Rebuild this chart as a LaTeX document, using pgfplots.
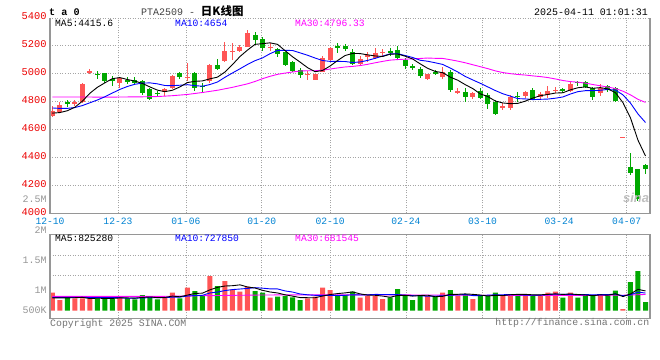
\documentclass[border=0pt]{standalone}
\usepackage{pgfplots}
\pgfplotsset{compat=1.18}
\usepackage{pgfplotstable}
\usepackage{fontspec}
\setmainfont{Liberation Mono}
\setmonofont{Liberation Mono}
\newfontfamily\cjk{Noto Sans CJK SC}
\newfontfamily\logofont{Liberation Sans}
\definecolor{cred}{RGB}{255,85,85}
\definecolor{cgreen}{RGB}{0,168,0}
\definecolor{gridc}{RGB}{165,165,165}
\definecolor{framec}{RGB}{150,150,150}
\definecolor{tickblue}{RGB}{0,130,210}
\definecolor{labred}{RGB}{235,0,0}
\definecolor{labgray}{RGB}{150,150,150}
\definecolor{magen}{RGB}{255,0,255}
\definecolor{mablue}{RGB}{0,0,255}

\pgfplotstableread{
i o h l c v
0 4700 4770 4690 4735 756
1 4728 4795 4720 4775 449
3 4785 4810 4768 4795 517
4 4796 4933 4790 4925 517
5 5012 5035 4995 5018 517
9 4935 4972 4900 4968 617
15 4868 4900 4840 4890 559
16 4898 4990 4893 4985 756
18 4972 5078 4950 4978 966
21 4945 5068 4935 5063 1457
23 5092 5231 5088 5162 1247
24 5158 5220 5100 5165 890
25 5160 5210 5155 5195 798
26 5195 5315 5190 5290 1008
29 5189 5220 5160 5195 546
34 4992 5020 4955 4998 517
35 4958 4998 4955 4995 588
36 5016 5125 5012 5111 966
37 5100 5195 5090 5183 869
41 5072 5130 5065 5108 546
42 5118 5158 5083 5135 617
43 5115 5182 5105 5148 617
44 5150 5180 5130 5158 491
50 4962 5000 4958 4998 617
52 4980 5050 4965 5014 756
54 4868 4900 4855 4875 617
56 4835 4868 4820 4860 491
60 4755 4790 4740 4770 659
61 4755 4850 4742 4832 659
63 4838 4880 4825 4868 659
65 4832 4868 4812 4858 659
66 4850 4912 4825 4878 756
67 4878 4903 4860 4885 798
69 4878 4940 4870 4928 756
73 4860 4925 4838 4900 701
76 4542 4548 4542 4548 71
}\redtab

\pgfplotstableread{
i o h l c v
2 4795 4812 4765 4785 559
6 5000 5020 4965 4990 517
7 5003 5005 4935 4945 517
8 4962 4982 4910 4945 517
10 4958 4978 4925 4945 517
11 4955 4975 4920 4935 475
12 4945 4955 4850 4862 659
13 4890 4895 4812 4820 617
14 4865 4880 4838 4855 475
17 5003 5015 4960 4978 517
19 5005 5010 4878 4897 827
20 4915 4933 4873 4905 617
22 5063 5105 5030 5036 1037
27 5280 5298 5210 5245 827
28 5250 5265 5160 5185 756
30 5178 5182 5118 5140 588
31 5155 5158 5056 5066 617
32 5088 5095 5010 5022 559
33 5028 5040 4972 4995 449
38 5202 5220 5150 5186 659
39 5198 5215 5165 5180 659
40 5155 5180 5062 5070 798
45 5162 5183 5130 5155 559
46 5170 5200 5100 5112 911
47 5102 5115 5035 5058 659
48 5056 5070 5030 5048 449
49 5034 5050 4970 4981 617
51 5015 5025 4988 5000 588
53 5014 5030 4868 4885 869
55 4866 4895 4800 4836 701
57 4876 4897 4818 4826 617
58 4850 4862 4745 4786 659
59 4800 4815 4705 4715 756
62 4842 4870 4800 4836 701
64 4886 4895 4815 4822 659
68 4888 4900 4862 4875 546
70 4941 4945 4912 4935 546
71 4942 4950 4900 4905 659
72 4898 4905 4815 4835 659
74 4912 4920 4870 4882 701
75 4895 4905 4800 4802 840
77 4335 4430 4275 4290 1205
78 4318 4320 4090 4102 1667
79 4345 4355 4285 4316 365
}\greentab

\pgfplotstableread{
i m5 m10 v5 v10
0 4718 4755 540 560
1 4722 4752 540 560
2 4735 4752 540 560
3 4760 4758 545 560
4 4803 4772 560 558
5 4860 4792 512 556
6 4903 4812 525 555
7 4935 4835 517 552
8 4965 4862 517 550
9 4973 4888 537 548
10 4959 4909 537 524
11 4948 4925 529 527
12 4931 4933 557 537
13 4906 4935 577 547
14 4883 4928 549 543
15 4872 4916 557 547
16 4882 4915 613 571
17 4906 4918 585 571
18 4937 4922 655 616
19 4946 4915 725 637
20 4949 4911 737 647
21 4964 4923 877 745
22 4976 4941 981 783
23 5013 4975 1037 846
24 5066 5006 1050 887
25 5124 5036 1086 911
26 5170 5067 996 936
27 5211 5094 954 967
28 5216 5114 856 946
29 5222 5144 787 918
30 5211 5168 745 915
31 5166 5168 667 831
32 5122 5167 613 784
33 5084 5150 552 704
34 5044 5133 546 667
35 5015 5113 546 646
36 5024 5095 616 641
37 5056 5089 678 646
38 5095 5089 720 636
39 5131 5088 748 647
40 5146 5081 790 668
41 5145 5085 706 661
42 5136 5096 656 667
43 5128 5111 647 684
44 5124 5127 614 681
45 5141 5143 566 678
46 5142 5144 639 673
47 5126 5131 647 652
48 5106 5117 614 631
49 5071 5097 639 626
50 5039 5090 651 608
51 5017 5079 586 613
52 5008 5067 605 626
53 4976 5041 689 652
54 4954 5013 689 664
55 4922 4981 706 678
56 4894 4956 687 636
57 4856 4932 659 632
58 4837 4906 617 653
59 4805 4880 645 667
60 4791 4857 636 671
61 4786 4840 670 678
62 4788 4822 687 673
63 4804 4820 687 652
64 4826 4815 667 656
65 4843 4817 667 652
66 4852 4819 687 678
67 4862 4825 706 697
68 4864 4834 684 685
69 4885 4855 703 685
70 4900 4872 680 674
71 4906 4879 661 674
72 4896 4879 633 670
73 4901 4882 664 674
74 4891 4888 653 678
75 4865 4883 712 696
76 4793 4849 594 628
77 4684 4790 704 668
78 4524 4712 897 781
79 4411 4651 830 741
}\matab

\pgfplotstableread{
i m30
0 4834
2 4834
4 4834
6 4833
8 4833
10 4834
12 4835
14 4837
16 4843
18 4852
20 4866
22 4882
24 4903
26 4928
27 4945
28 4965
29 4982
30 4996
31 5005
32 5013
33 5020
34 5022
35 5022
36 5026
37 5034
38 5042
39 5049
40 5053
41 5059
42 5068
43 5079
44 5089
45 5098
46 5102
47 5105
48 5107
49 5110
50 5113
51 5111
52 5110
53 5101
54 5091
55 5079
56 5065
57 5051
58 5037
59 5021
60 5009
61 5001
62 4995
63 4991
64 4985
65 4980
66 4973
67 4963
68 4952
69 4944
70 4940
71 4933
72 4923
73 4914
74 4905
75 4894
76 4875
77 4849
78 4817
79 4795
}\mathirty

\pgfplotstableread{
i v30
0 600
10 600
15 605
20 630
28 660
37 670
50 660
60 640
70 640
76 650
79 682
}\vthirty

\begin{document}
\begin{tikzpicture}[x=1bp,y=1bp]
\path[use as bounding box] (0bp,0bp) rectangle (660bp,360bp);

% ---------------- price panel ----------------
\begin{axis}[
  at={(50bp,146.7bp)}, anchor=south west,
  width=600bp, height=195.3bp, scale only axis,
  xmin=-0.3, xmax=79.6, ymin=4000, ymax=5400,
  axis line style={draw=none},
  major tick length=0pt,
  xtick={-0.3,8.75,17.8,27.9,37.0,47.1,57.3,67.5,76.5},
  xticklabels={12-10,12-23,01-06,01-20,02-10,02-24,03-10,03-24,04-07},
  ytick={4000,4200,4400,4600,4800,5000,5200,5400},
  yticklabels={4000,4200,4400,4600,4800,5000,5200,5400},
  grid=major,
  major grid style={gridc, line width=0.8bp, dash pattern=on 1bp off 1.5bp},
  xticklabel style={font=\fontsize{9.7}{10}\selectfont, text=tickblue, inner sep=0pt, anchor=base, yshift=-11.7bp},
  yticklabel style={font=\fontsize{10.4}{10}\selectfont, text=labred, inner sep=0pt, anchor=east, xshift=-3.3bp, yshift=1.5bp},
  clip=false,
]
% wicks
\addplot[draw=none, mark=none, forget plot,
  error bars/.cd, y dir=both, y explicit, error mark=none,
  error bar style={draw=cred, solid, line width=1bp}]
  table[x=i, y expr={(\thisrow{h}+\thisrow{l})/2}, y error expr={(\thisrow{h}-\thisrow{l})/2}]{\redtab};
\addplot[draw=none, mark=none, forget plot,
  error bars/.cd, y dir=both, y explicit, error mark=none,
  error bar style={draw=cgreen, solid, line width=1bp}]
  table[x=i, y expr={(\thisrow{h}+\thisrow{l})/2}, y error expr={(\thisrow{h}-\thisrow{l})/2}]{\greentab};
% bodies
\addplot[draw=none, mark=none, forget plot,
  error bars/.cd, y dir=both, y explicit, error mark=none,
  error bar style={draw=cred, solid, line width=5bp}]
  table[x=i, y expr={(\thisrow{o}+\thisrow{c})/2}, y error expr={abs(\thisrow{c}-\thisrow{o})/2}]{\redtab};
\addplot[draw=none, mark=none, forget plot,
  error bars/.cd, y dir=both, y explicit, error mark=none,
  error bar style={draw=cgreen, solid, line width=5bp}]
  table[x=i, y expr={(\thisrow{o}+\thisrow{c})/2}, y error expr={abs(\thisrow{c}-\thisrow{o})/2}]{\greentab};
% moving averages
\addplot[magen, line width=0.9bp, mark=none] table[x=i, y=m30]{\mathirty};
\addplot[mablue, line width=0.9bp, mark=none] table[x=i, y=m10]{\matab};
\addplot[black, line width=0.9bp, mark=none] table[x=i, y=m5]{\matab};
\end{axis}

% ---------------- volume panel ----------------
\begin{axis}[
  at={(50bp,41.7bp)}, anchor=south west,
  width=600bp, height=84bp, scale only axis,
  xmin=-0.3, xmax=79.6, ymin=-319, ymax=3209,
  axis line style={draw=none},
  major tick length=0pt,
  xtick={-0.3,8.75,17.8,27.9,37.0,47.1,57.3,67.5,76.5},
  xticklabels={},
  ytick={1499,2339}, yticklabels={},
  grid=major,
  major grid style={gridc, line width=0.8bp, dash pattern=on 1bp off 1.5bp},
  clip=false,
]
\addplot[ybar, bar width=5bp, bar shift=0pt, fill=cred, draw=none, forget plot] table[x=i, y=v]{\redtab};
\addplot[ybar, bar width=5bp, bar shift=0pt, fill=cgreen, draw=none, forget plot] table[x=i, y=v]{\greentab};
\addplot[magen, line width=0.9bp, mark=none] table[x=i, y=v30]{\vthirty};
\addplot[mablue, line width=0.9bp, mark=none] table[x=i, y=v10]{\matab};
\addplot[black, line width=0.9bp, mark=none] table[x=i, y=v5]{\matab};
\end{axis}

% frames
\draw[framec, line width=1.3bp] (50bp,342bp) -- (50bp,146.7bp) -- (650bp,146.7bp) -- (650bp,342bp);
\draw[framec, line width=1.3bp] (50bp,41.7bp) rectangle (650bp,125.7bp);

% header texts
\node[anchor=west, inner sep=0pt, font=\bfseries\fontsize{10.2}{11}\selectfont] at (49bp,348bp) {t a 0};
\node[anchor=west, inner sep=0pt, font=\fontsize{10}{11}\selectfont] at (141bp,348.5bp) {\textcolor{black!75}{PTA2509 - }{\cjk\bfseries\fontsize{11.5}{12}\selectfont 日K线图}};
\node[anchor=east, inner sep=0pt, font=\fontsize{10}{11}\selectfont] at (648bp,347.5bp) {2025-04-11 01:01:31};

% price legend
\node[anchor=west, inner sep=0pt, font=\fontsize{9.7}{10}\selectfont] at (55bp,337bp) {MA5:4415.6};
\node[anchor=west, inner sep=0pt, font=\fontsize{9.7}{10}\selectfont, text=mablue] at (175bp,337bp) {MA10:4654};
\node[anchor=west, inner sep=0pt, font=\fontsize{9.7}{10}\selectfont, text=magen] at (295bp,337bp) {MA30:4796.33};

% volume legend
\node[anchor=west, inner sep=0pt, font=\fontsize{9.7}{10}\selectfont] at (55bp,121.7bp) {MA5:825280};
\node[anchor=west, inner sep=0pt, font=\fontsize{9.7}{10}\selectfont, text=mablue] at (175bp,121.7bp) {MA10:727850};
\node[anchor=west, inner sep=0pt, font=\fontsize{9.7}{10}\selectfont, text=magen] at (295bp,121.7bp) {MA30:681545};

% volume axis labels
\node[anchor=east, inner sep=0pt, font=\fontsize{10}{10}\selectfont, text=labgray] at (46.7bp,161bp) {2.5M};
\node[anchor=east, inner sep=0pt, font=\fontsize{10}{10}\selectfont, text=labgray] at (46.7bp,130bp) {2M};
\node[anchor=east, inner sep=0pt, font=\fontsize{10}{10}\selectfont, text=labgray] at (46.7bp,99.3bp) {1.5M};
\node[anchor=east, inner sep=0pt, font=\fontsize{10}{10}\selectfont, text=labgray] at (46.7bp,69.3bp) {1M};
\node[anchor=east, inner sep=0pt, font=\fontsize{10}{10}\selectfont, text=labgray] at (46.7bp,49.3bp) {500K};

% footer
\node[anchor=west, inner sep=0pt, font=\fontsize{9.9}{10}\selectfont, text=black!55] at (50bp,36.5bp) {Copyright 2025 SINA.COM};
\node[anchor=east, inner sep=0pt, font=\fontsize{9.9}{10}\selectfont, text=black!55] at (649.5bp,36.7bp) {http://finance.sina.com.cn};

% watermark
\node[inner sep=0pt, font=\logofont\bfseries\itshape\fontsize{13}{13}\selectfont, text=black!25] at (636bp,162bp) {sina};
\end{tikzpicture}
\end{document}
